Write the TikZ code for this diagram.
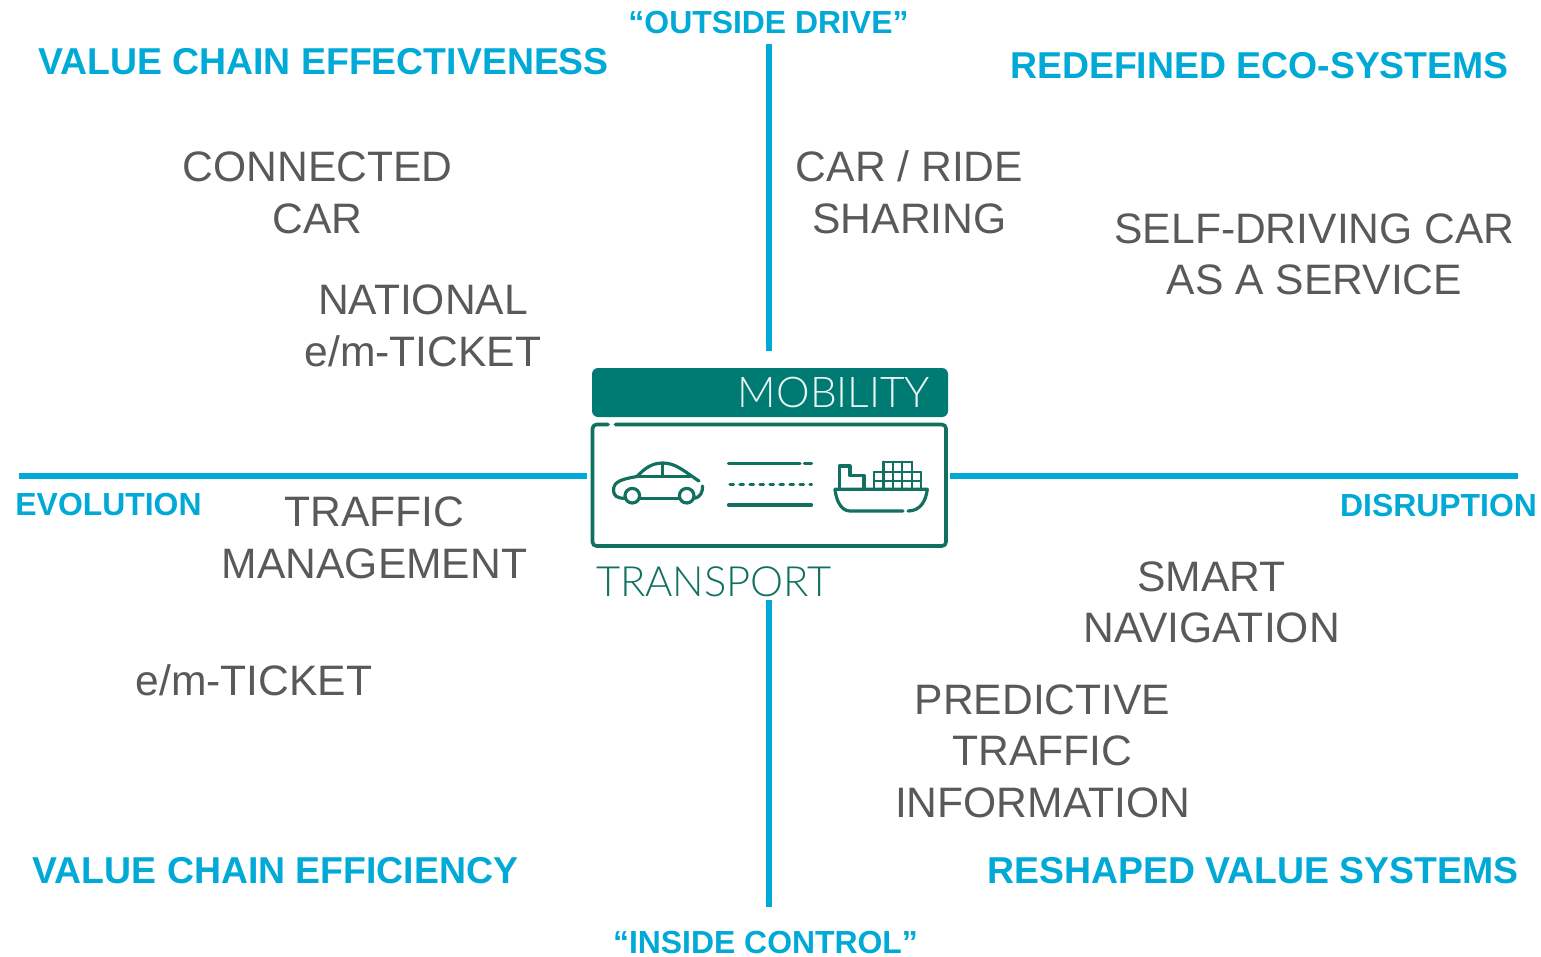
\documentclass[tikz,border=0pt]{standalone}
\usepackage[x11names, svgnames, rgb]{xcolor}
\usepackage{fontspec}
\setmainfont{Liberation Sans}
\newfontfamily\iconfont{Lato Light}
\usetikzlibrary{arrows,shapes}
\definecolor{axisblue}{HTML}{00A9D6}
\definecolor{itemgrey}{HTML}{595959}
\definecolor{tealbar}{HTML}{007B74}
\definecolor{tealline}{HTML}{11705F}
\tikzset{
  quadrant/.style={text=axisblue,font=\fontsize{37.4bp}{44bp}\selectfont\bfseries,inner sep=0pt},
  axislabel/.style={text=axisblue,font=\fontsize{31.9bp}{38bp}\selectfont\bfseries,inner sep=0pt},
  item/.style={text=itemgrey,font=\fontsize{42.6bp}{51.5bp}\selectfont,align=center,inner sep=0pt},
  axisline/.style={draw=axisblue,line width=6bp},
  icon/.style={draw=tealline,line width=3.2bp,line cap=round,line join=round},
  crate/.style={draw=tealline,line width=2.4bp,line cap=round,line join=round}
}
\begin{document}
\begin{tikzpicture}[>=latex',line join=bevel]
		\useasboundingbox (0bp,0bp) rectangle (1541bp,-957bp);
		% axes
		\coordinate (north) at (769bp,-44bp);
		\coordinate (northend) at (769bp,-351bp);
		\coordinate (south) at (769bp,-907bp);
		\coordinate (southend) at (769bp,-600bp);
		\coordinate (west) at (19bp,-476bp);
		\coordinate (westend) at (587bp,-476bp);
		\coordinate (east) at (1518bp,-476bp);
		\coordinate (eastend) at (950bp,-476bp);
		\draw [axisline] (north) -- (northend);
		\draw [axisline] (south) -- (southend);
		\draw [axisline] (west) -- (westend);
		\draw [axisline] (east) -- (eastend);
		% labels
		\node (outside) at (768.5bp,-22.5bp) [axislabel] {“OUTSIDE DRIVE”};
		\node (inside) at (765.5bp,-942.5bp) [axislabel] {“INSIDE CONTROL”};
		\node (evolution) at (108.5bp,-504.5bp) [axislabel] {EVOLUTION};
		\node (disruption) at (1438.5bp,-505.5bp) [axislabel] {DISRUPTION};
		\node (effective) at (323.5bp,-61.5bp) [quadrant] {VALUE CHAIN EFFECTIVENESS};
		\node (ecosys) at (1259.5bp,-65.5bp) [quadrant] {REDEFINED ECO-SYSTEMS};
		\node (efficient) at (275.5bp,-870.5bp) [quadrant] {VALUE CHAIN EFFICIENCY};
		\node (reshaped) at (1253bp,-870.5bp) [quadrant] {RESHAPED VALUE SYSTEMS};
		\node (connected) at (317.5bp,-192.8bp) [item] {CONNECTED\\CAR};
		\node (ticketnat) at (423bp,-325.8bp) [item] {NATIONAL\\e/m-TICKET};
		\node (sharing) at (909.5bp,-192.2bp) [item] {CAR / RIDE\\SHARING};
		\node (selfdrive) at (1314.5bp,-254.3bp) [item] {SELF-DRIVING CAR\\AS A SERVICE};
		\node (traffic) at (374.5bp,-537.8bp) [item] {TRAFFIC\\MANAGEMENT};
		\node (ticket) at (254bp,-680bp) [item] {e/m-TICKET};
		\node (smartnav) at (1211.5bp,-602.2bp) [item] {SMART\\NAVIGATION};
		\node (predictive) at (1042.5bp,-750.9bp) [item] {PREDICTIVE\\TRAFFIC\\INFORMATION};
		% logo
		\fill [tealbar,rounded corners=6bp] (592bp,-368bp) rectangle (948bp,-417bp);
		\node (mobility) at (834bp,-392.5bp) [text=white!92!tealbar,font=\fontsize{42.4bp}{44bp}\iconfont,inner sep=0pt] {MOBILITY};
		\node (transport) at (714bp,-582bp) [text=tealline,font=\fontsize{41.7bp}{44bp}\iconfont,inner sep=0pt] {TRANSPORT};
		\draw [icon,line width=3.6bp,rounded corners=4bp] (608bp,-424.5bp) -- (592.5bp,-424.5bp) -- (592.5bp,-546bp) -- (946bp,-546bp) -- (946bp,-424.5bp) -- (615.5bp,-424.5bp);
		% car
		\draw [icon] (625bp,-498.3bp) .. controls (617bp,-498.3bp) and (613.5bp,-496bp) .. (613.5bp,-490bp) .. controls (613.5bp,-481bp) and (623bp,-479bp) .. (637bp,-476.5bp) .. controls (645bp,-468bp) and (652bp,-463bp) .. (663bp,-463bp) .. controls (676bp,-463bp) and (685bp,-472bp) .. (699bp,-481bp);
		\draw [icon] (702.5bp,-486bp) .. controls (703bp,-492bp) and (700bp,-497bp) .. (695bp,-498.3bp);
		\draw [icon] (640bp,-498.3bp) -- (679.5bp,-498.3bp);
		\draw [icon] (632.3bp,-495.7bp) circle (7.3bp);
		\draw [icon] (686.7bp,-495.7bp) circle (7.3bp);
		\draw [icon] (637bp,-476.5bp) -- (690bp,-476.5bp);
		\draw [icon] (662.7bp,-464bp) -- (662.7bp,-476bp);
		% road
		\draw [icon] (728.5bp,-463.7bp) -- (800bp,-463.7bp);
		\draw [icon] (804.5bp,-463.7bp) -- (811.5bp,-463.7bp);
		\draw [icon,dash pattern=on 3.5bp off 6.5bp] (730bp,-484.3bp) -- (811.5bp,-484.3bp);
		\draw [icon] (728.5bp,-505bp) -- (811.5bp,-505bp);
		% ship
		\draw [icon] (835bp,-489.3bp) -- (927.3bp,-489.3bp) .. controls (926bp,-500bp) and (921bp,-511bp) .. (908bp,-511bp);
		\draw [icon] (835bp,-489.3bp) .. controls (836bp,-500bp) and (841bp,-511bp) .. (850bp,-511bp) -- (903bp,-511bp);
		\draw [icon] (839.3bp,-489.3bp) -- (839.3bp,-466bp) -- (850bp,-466bp) -- (850bp,-475.7bp) -- (864bp,-475.7bp) -- (864bp,-489.3bp);
		\draw [crate] (874bp,-489.3bp) -- (874bp,-471.7bp) -- (883.3bp,-471.7bp) -- (883.3bp,-461.7bp) -- (911.7bp,-461.7bp) -- (911.7bp,-471.7bp) -- (920.7bp,-471.7bp) -- (920.7bp,-489.3bp);
		\foreach \x in {883.3,892.7,902.2,911.7} {
		  \draw [crate] (\x bp,-461.7bp) -- (\x bp,-489.3bp);
		}
		\draw [crate] (874bp,-471.7bp) -- (920.7bp,-471.7bp);
		\draw [crate] (874bp,-480.7bp) -- (920.7bp,-480.7bp);
\end{tikzpicture}
\end{document}
